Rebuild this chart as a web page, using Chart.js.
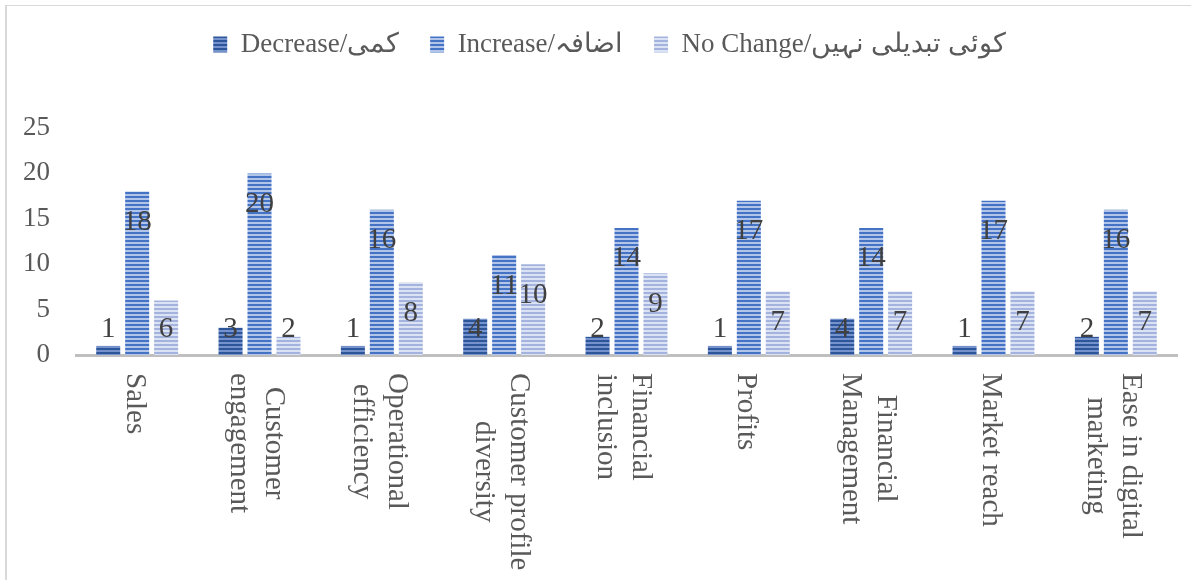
<!DOCTYPE html>
<html>
<head>
<meta charset="utf-8">
<script src="https://cdn.jsdelivr.net/npm/chart.js@4.4.1/dist/chart.umd.min.js"></script>
<style>
  html, body { margin: 0; padding: 0; background: #ffffff; overflow: hidden; }
  #wrap { position: relative; width: 1191px; height: 580px; overflow: hidden; }
  #frame { position: absolute; left: 5px; top: 5px; width: 1300px; height: 700px;
           border-left: 2px solid #d9d9d9; border-top: 1px solid #d9d9d9; pointer-events: none; }
  canvas { position: absolute; left: 0; top: 0; }
</style>
</head>
<body>
<div id="wrap">
  <div id="frame"></div>
  <canvas id="c" width="1191" height="580"></canvas>
</div>
<script>
// ---- data ----
const categories = [
  ['Sales'],
  ['Customer', 'engagement'],
  ['Operational', 'efficiency'],
  ['Customer profile', 'diversity'],
  ['Financial', 'inclusion'],
  ['Profits'],
  ['Financial', 'Management'],
  ['Market reach'],
  ['Ease in digital', 'marketing']
];
const seriesNames = ['Decrease/کمی', 'Increase/اضافہ', 'No Change/کوئی تبدیلی نہیں'];
const decreaseValues = [1, 3, 1, 4, 2, 1, 4, 1, 2];
const increaseValues = [18, 20, 16, 11, 14, 17, 14, 17, 16];
const noChangeValues = [6, 2, 8, 10, 9, 7, 7, 7, 7];
const yTicks = [0, 5, 10, 15, 20, 25];

// ---- styling helpers ----
const SERIF = '"Liberation Serif", "DejaVu Serif", serif';

function stripePattern(fg, bg) {
  const c = document.createElement('canvas');
  c.width = 4; c.height = 4;
  const g = c.getContext('2d');
  g.fillStyle = bg; g.fillRect(0, 0, 4, 4);
  g.fillStyle = fg; g.fillRect(0, 0, 4, 2);
  return g.createPattern(c, 'repeat');
}
const ctx = document.getElementById('c').getContext('2d');
const fills = [
  stripePattern('#2d559a', '#7592cc'),
  stripePattern('#4472c4', '#b2c5e9'),
  stripePattern('#a3b3de', '#dbe2f3')
];

const LEGEND_H = 128;

const layoutPlugin = {
  id: 'legendHeight',
  beforeLayout(chart) {
    const lg = chart.legend;
    if (lg && !lg.__patched) {
      const orig = lg.fit;
      lg.fit = function () { orig.apply(this, arguments); this.height = LEGEND_H; };
      lg.__patched = true;
    }
  },
  afterLayout(chart) {
    if (chart.legend) { chart.legend.left += 42; }
  }
};

const valueLabels = {
  id: 'valueLabels',
  afterDatasetsDraw(chart) {
    const c = chart.ctx;
    c.save();
    c.font = '29px ' + SERIF;
    c.fillStyle = '#404040';
    c.textAlign = 'center';
    c.textBaseline = 'middle';
    chart.data.datasets.forEach((ds, di) => {
      const meta = chart.getDatasetMeta(di);
      meta.data.forEach((el, i) => {
        const y = Math.min(el.y + 31, el.base - 26);
        c.fillText(String(ds.data[i]), el.x, y);
      });
    });
    c.restore();
  }
};

const xLabels = {
  id: 'xLabels',
  afterDraw(chart) {
    const xs = chart.scales.x;
    const c = chart.ctx;
    c.save();
    c.font = '29px ' + SERIF;
    c.fillStyle = '#595959';
    c.textAlign = 'center';
    c.textBaseline = 'middle';
    const lh = 35;
    const top = chart.chartArea.bottom + 18;
    categories.forEach((lines, i) => {
      const x = xs.getPixelForValue(i);
      let maxW = 0;
      lines.forEach(l => { maxW = Math.max(maxW, c.measureText(l).width); });
      c.save();
      c.translate(x, top);
      c.rotate(Math.PI / 2);
      lines.forEach((l, k) => {
        const off = (k - (lines.length - 1) / 2) * lh;
        c.fillText(l, maxW / 2, off + 3);
      });
      c.restore();
    });
    c.restore();
  }
};

new Chart(ctx, {
  type: 'bar',
  data: {
    labels: categories,
    datasets: [
      { label: seriesNames[0], data: decreaseValues, backgroundColor: fills[0], borderWidth: 0 },
      { label: seriesNames[1], data: increaseValues, backgroundColor: fills[1], borderWidth: 0 },
      { label: seriesNames[2], data: noChangeValues, backgroundColor: fills[2], borderWidth: 0 }
    ]
  },
  options: {
    responsive: false,
    animation: false,
    devicePixelRatio: 1,
    layout: { padding: { left: 0, right: 14, top: 0, bottom: 0 } },
    datasets: { bar: { categoryPercentage: 0.71, barPercentage: 0.83 } },
    plugins: {
      legend: {
        display: true,
        position: 'top',
        align: 'center',
        labels: {
          boxWidth: 14,
          boxHeight: 16,
          padding: 31,
          color: '#595959',
          font: { family: SERIF, size: 27 }
        }
      },
      tooltip: { enabled: false },
      title: { display: false }
    },
    scales: {
      x: {
        type: 'category',
        grid: { display: false, drawTicks: false },
        border: { display: true, color: '#bfbfbf', width: 3 },
        ticks: { display: false },
        afterFit(scale) { scale.height = 225; }
      },
      y: {
        min: 0,
        max: 25,
        afterBuildTicks(scale) { scale.ticks = yTicks.map(v => ({ value: v })); },
        grid: { display: false, drawTicks: false },
        border: { display: false },
        ticks: {
          color: '#595959',
          padding: 26,
          font: { family: SERIF, size: 27 }
        },
        afterFit(scale) { scale.width = 76; }
      }
    }
  },
  plugins: [layoutPlugin, valueLabels, xLabels]
});
</script>
</body>
</html>
